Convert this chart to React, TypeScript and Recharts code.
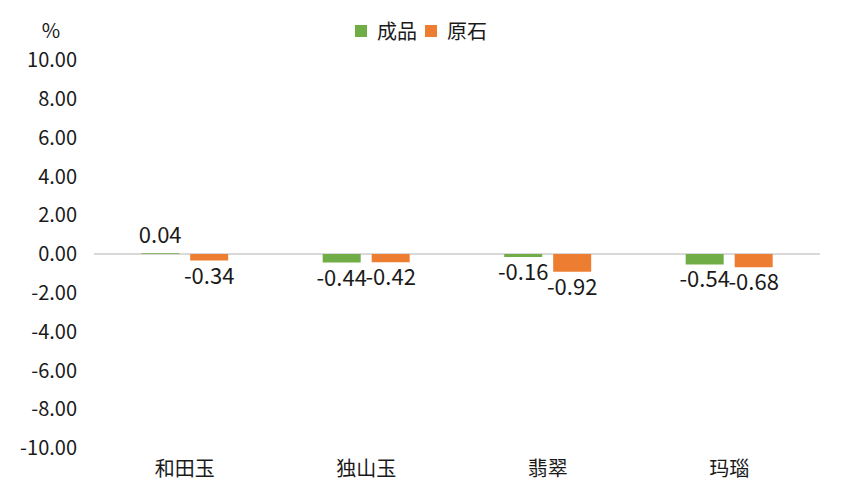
import { BarChart, Bar, XAxis, YAxis, Legend, CartesianGrid, LabelList } from "recharts";

const categories = ["和田玉", "独山玉", "翡翠", "玛瑙"];
const finished = [0.04, -0.44, -0.16, -0.54];
const rough = [-0.34, -0.42, -0.92, -0.68];
const yTicks = [-10, -8, -6, -4, -2, 0, 2, 4, 6, 8, 10];

const FONT = '"Noto Sans CJK SC", "Noto Sans", sans-serif';
const TEXT = "#1a1a1a";
const GREEN = "#70AD47";
const ORANGE = "#ED7D31";

const chartData = categories.map((name, i) => ({
  name,
  finished: finished[i],
  rough: rough[i],
}));

// label above positive bars, below negative ones
function ValueLabel(props: any) {
  const { x, y, width, height, value } = props;
  const top = Math.min(y, y + height);
  const bottom = Math.max(y, y + height);
  const ty = value >= 0 ? top - 10 : bottom + 23;
  return (
    <text x={x + width / 2} y={ty} textAnchor="middle" fill={TEXT} fontSize={22} fontFamily={FONT}>
      {value.toFixed(2)}
    </text>
  );
}

function LegendBox() {
  const items = [
    { label: "成品", color: GREEN },
    { label: "原石", color: ORANGE },
  ];
  return (
    <div style={{ display: "flex", justifyContent: "center", fontFamily: FONT, fontSize: 20, color: TEXT, paddingLeft: 6 }}>
      {items.map((it) => (
        <div key={it.label} style={{ display: "flex", alignItems: "center", marginRight: 8 }}>
          <span style={{ display: "inline-block", width: 12, height: 12, background: it.color, marginRight: 10 }} />
          <span>{it.label}</span>
        </div>
      ))}
    </div>
  );
}

export default function App() {
  return (
    <div style={{ position: "absolute", left: 0, top: 0, width: 844, height: 500, background: "#fff" }}>
      <BarChart
        width={844}
        height={500}
        data={chartData}
        margin={{ top: 60, right: 24, bottom: 12, left: 0 }}
        barCategoryGap="26%"
        barGap={11}
      >
        <CartesianGrid vertical={false} horizontalValues={[0]} stroke="#D9D9D9" strokeWidth={2} />
        <XAxis
          dataKey="name"
          axisLine={false}
          tickLine={false}
          tickSize={0}
          tickMargin={14}
          height={40}
          interval={0}
          tick={{ fill: TEXT, fontSize: 20, fontFamily: FONT }}
        />
        <YAxis
          domain={[-10, 10]}
          ticks={yTicks}
          width={94}
          axisLine={false}
          tickLine={false}
          tickSize={0}
          tickMargin={17}
          tickFormatter={(v: number) => v.toFixed(2)}
          tick={{ fill: TEXT, fontSize: 20, fontFamily: FONT }}
          label={{ value: "%", position: "top", offset: 22, dx: 4, fill: TEXT, fontSize: 20, fontFamily: FONT }}
        />
        <Legend
          layout="horizontal"
          verticalAlign="middle"
          align="center"
          wrapperStyle={{ top: 16, left: 0, width: 844 }}
          content={() => <LegendBox />}
        />
        <Bar dataKey="finished" name="成品" fill={GREEN} isAnimationActive={false}>
          <LabelList dataKey="finished" content={ValueLabel} />
        </Bar>
        <Bar dataKey="rough" name="原石" fill={ORANGE} isAnimationActive={false}>
          <LabelList dataKey="rough" content={ValueLabel} />
        </Bar>
      </BarChart>
    </div>
  );
}
